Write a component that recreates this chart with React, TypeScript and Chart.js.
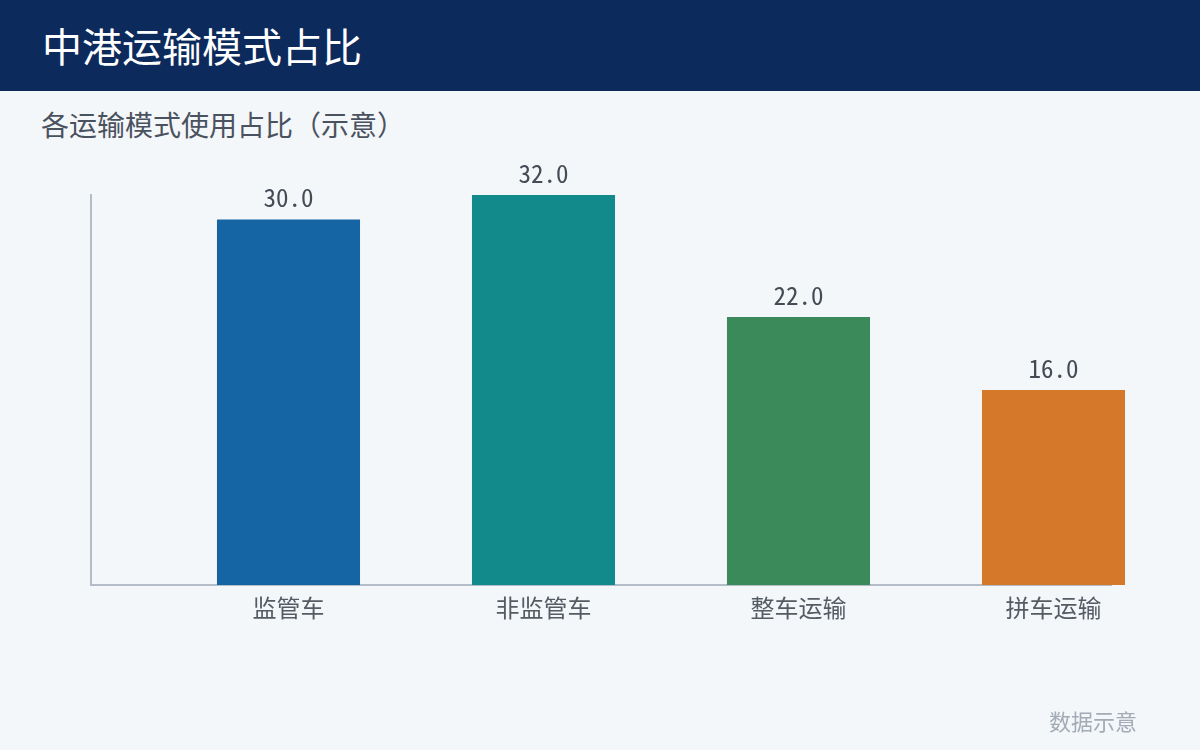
import React, { useEffect, useRef } from "react";
import { Chart, registerables } from "chart.js";

Chart.register(...registerables);

const categories = ["监管车", "非监管车", "整车运输", "拼车运输"];
const shareValues = [30.0, 32.0, 22.0, 16.0];
const barColors = ["#1565a5", "#128a8c", "#3a8a5a", "#d6782a"];
const titleText = "中港运输模式占比";
const subtitleText = "各运输模式使用占比（示意）";
const footerText = "数据示意";

const CJK = '"Noto Sans CJK SC", "Noto Sans", sans-serif';
const MONO = '"Noto Sans Mono CJK SC", "DejaVu Sans Mono", monospace';

const valueLabelPlugin = {
  id: "valueLabels",
  afterDatasetsDraw(chart: any) {
    const ctx = chart.ctx;
    const meta = chart.getDatasetMeta(0);
    ctx.save();
    ctx.font = `25px ${MONO}`;
    ctx.fillStyle = "#444b55";
    ctx.textAlign = "center";
    ctx.textBaseline = "alphabetic";
    meta.data.forEach((el: any, i: number) => {
      const v = shareValues[i];
      ctx.fillText(v.toFixed(1), el.x, el.y - 12);
    });
    ctx.restore();
  },
};

export default function App() {
  const ref = useRef<HTMLCanvasElement | null>(null);

  useEffect(() => {
    document.body.style.margin = "0";
    const canvas = ref.current;
    if (!canvas) return;
    const chart = new Chart(canvas, {
      type: "bar",
      data: {
        datasets: [
          {
            data: shareValues.map((v, i) => ({ x: i, y: v })),
            backgroundColor: barColors,
            borderWidth: 0,
            barPercentage: 0.561,
            categoryPercentage: 1,
            clip: false,
          },
        ],
      },
      options: {
        animation: false,
        responsive: false,
        maintainAspectRatio: false,
        layout: { padding: { left: 91, right: 89, top: 195, bottom: 115 } },
        plugins: {
          legend: { display: false },
          tooltip: { enabled: false },
          title: { display: false },
        },
        scales: {
          x: {
            type: "linear",
            min: -0.7745,
            max: 3.2255,
            offset: false,
            grid: { display: false, drawTicks: false },
            border: { display: true, color: "#b4bcc8", width: 2 },
            afterBuildTicks: (scale: any) => {
              scale.ticks = categories.map((_, i) => ({ value: i }));
            },
            afterFit: (scale: any) => {
              scale.height = 50;
            },
            ticks: {
              autoSkip: false,
              maxRotation: 0,
              padding: 8,
              color: "#555b63",
              font: { family: CJK, size: 24 },
              callback: (v: any) => categories[Math.round(Number(v))] ?? "",
            },
          },
          y: {
            min: 0,
            max: 32,
            grid: { display: false, drawTicks: false },
            border: { display: true, color: "#b4bcc8", width: 2 },
            ticks: { display: false },
            afterFit: (scale: any) => {
              scale.width = 0;
            },
          },
        },
      },
      plugins: [valueLabelPlugin],
    } as any);
    return () => chart.destroy();
  }, []);

  return (
    <div
      style={{
        position: "absolute",
        left: 0,
        top: 0,
        width: 1200,
        height: 750,
        background: "#f4f7fa",
        overflow: "hidden",
        fontFamily: CJK,
      }}
    >
      <div
        style={{
          position: "absolute",
          left: 0,
          top: 0,
          width: 1200,
          height: 91,
          background: "#0c2a5c",
        }}
      />
      <div
        style={{
          position: "absolute",
          left: 42,
          top: 25,
          fontSize: 40,
          lineHeight: "40px",
          color: "#ffffff",
          whiteSpace: "nowrap",
        }}
      >
        {titleText}
      </div>
      <div
        style={{
          position: "absolute",
          left: 41,
          top: 110,
          fontSize: 28,
          lineHeight: "28px",
          color: "#4a5260",
          whiteSpace: "nowrap",
        }}
      >
        {subtitleText}
      </div>
      <canvas
        ref={ref}
        width={1200}
        height={750}
        style={{ position: "absolute", left: 0, top: 0, width: 1200, height: 750 }}
      />
      <div
        style={{
          position: "absolute",
          right: 63,
          top: 709,
          fontSize: 22,
          lineHeight: "22px",
          color: "#a3abb6",
          whiteSpace: "nowrap",
        }}
      >
        {footerText}
      </div>
    </div>
  );
}
